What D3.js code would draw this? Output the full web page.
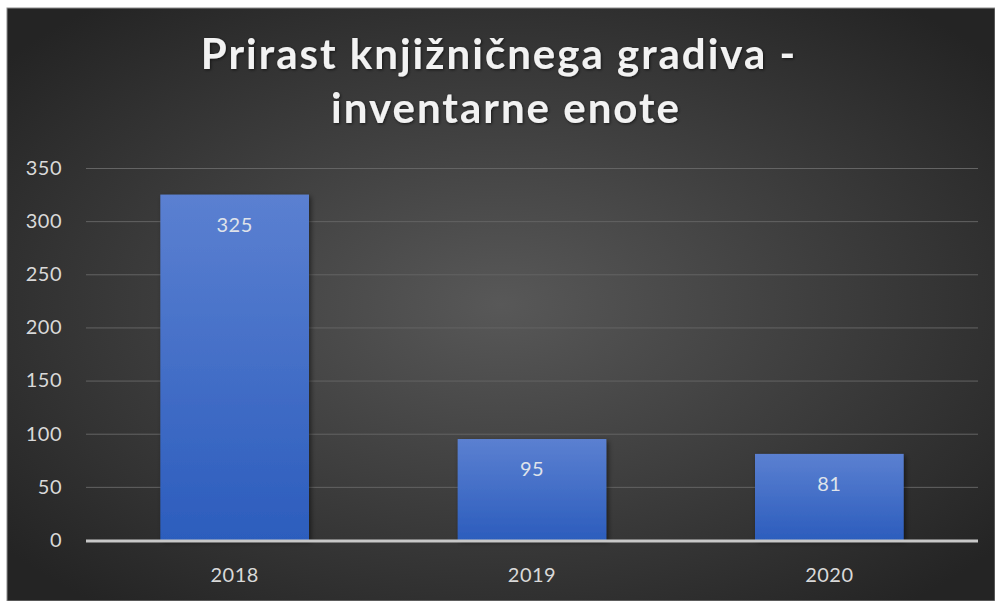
<!DOCTYPE html>
<html>
<head>
<meta charset="utf-8">
<script src="https://cdn.jsdelivr.net/npm/d3@7"></script>
<style>
  body { margin: 0; background: #fff; }
  svg { display: block; }
</style>
</head>
<body>
<svg id="svg1" width="995" height="601"></svg>
<script>
var years = ['2018', '2019', '2020'];
var values = [325, 95, 81];
var yTicks = [0, 50, 100, 150, 200, 250, 300, 350];
var titleLines = ['Prirast knjižničnega gradiva -', 'inventarne enote'];

var width = 995;
var height = 601;
var marginLeft = 86;
var marginRight = 17;
var plotTop = 168;
var plotBottom = 540;
var fontFam = 'Lato, "Open Sans", sans-serif';

var svg = d3.select('svg');
var defs = svg.append('defs');

// background gradient
var bg = defs.append('radialGradient')
    .attr('id', 'bg')
    .attr('cx', '50%').attr('cy', '50%').attr('r', '65%');
bg.append('stop').attr('offset', '0%').attr('stop-color', '#585858');
bg.append('stop').attr('offset', '100%').attr('stop-color', '#242424');

var barGrad = defs.append('linearGradient')
    .attr('id', 'barGrad')
    .attr('x1', 0).attr('y1', 0).attr('x2', 0).attr('y2', 1);
barGrad.append('stop').attr('offset', '0%').attr('stop-color', '#5b80d1');
barGrad.append('stop').attr('offset', '100%').attr('stop-color', '#2c5dbd');

var shadow = defs.append('filter').attr('id', 'shadow')
    .attr('x', '-10%').attr('y', '-10%').attr('width', '130%').attr('height', '130%');
shadow.append('feDropShadow')
    .attr('dx', 2).attr('dy', 2).attr('stdDeviation', 2.5)
    .attr('flood-color', '#000').attr('flood-opacity', 0.5);

var txtShadow = defs.append('filter').attr('id', 'txtShadow');
txtShadow.append('feDropShadow')
    .attr('dx', 1).attr('dy', 1).attr('stdDeviation', 1.5)
    .attr('flood-color', '#000').attr('flood-opacity', 0.6);

svg.append('rect')
    .attr('x', 7).attr('y', 8)
    .attr('width', width - 7).attr('height', height - 8)
    .attr('fill', 'url(#bg)')
    .attr('stroke', '#8c8c8c').attr('stroke-width', 1);

var x = d3.scaleBand()
    .domain(years)
    .range([marginLeft, width - marginRight])
    .paddingInner(0.5)
    .paddingOuter(0.25);

var y = d3.scaleLinear()
    .domain([0, 350])
    .range([plotBottom, plotTop]);

// gridlines
svg.append('g')
    .attr('class', 'grid')
    .selectAll('line')
    .data(yTicks.slice(1))
    .enter()
    .append('line')
    .attr('x1', marginLeft)
    .attr('x2', width - marginRight)
    .attr('y1', function(d) { return y(d) + 0.5; })
    .attr('y2', function(d) { return y(d) + 0.5; })
    .attr('stroke', '#646464')
    .attr('stroke-width', 1);

// y axis labels
var yAxis = d3.axisLeft(y).tickValues(yTicks).tickSize(0).tickPadding(0);
svg.append('g')
    .attr('transform', 'translate(62,0)')
    .call(yAxis)
    .call(function(g) { g.select('.domain').remove(); })
    .selectAll('text')
    .attr('fill', '#d9d9d9')
    .style('font-family', fontFam)
    .style('font-size', '20px')
    .style('letter-spacing', '0.5px');

// bars
svg.append('g')
    .selectAll('rect')
    .data(values)
    .enter()
    .append('rect')
    .attr('x', function(d, i) { return x(years[i]); })
    .attr('y', function(d) { return y(d); })
    .attr('width', x.bandwidth())
    .attr('height', function(d) { return y(0) - y(d); })
    .attr('fill', 'url(#barGrad)')
    .attr('filter', 'url(#shadow)');

// value labels
svg.append('g')
    .selectAll('text')
    .data(values)
    .enter()
    .append('text')
    .attr('x', function(d, i) { return x(years[i]) + x.bandwidth() / 2; })
    .attr('y', function(d) { return y(d) + 37; })
    .attr('text-anchor', 'middle')
    .attr('fill', '#dfe3ea')
    .style('font-family', fontFam)
    .style('font-size', '20px')
    .style('letter-spacing', '0.5px')
    .text(function(d) { return d; });

// x axis
var xAxis = d3.axisBottom(x).tickSize(0).tickPadding(28);
var gx = svg.append('g')
    .attr('transform', 'translate(0,' + plotBottom + ')')
    .call(xAxis);
gx.select('.domain').remove();
gx.selectAll('text')
    .attr('fill', '#d9d9d9')
    .style('font-family', fontFam)
    .style('font-size', '20px')
    .style('letter-spacing', '0.5px');

svg.append('line')
    .attr('x1', marginLeft).attr('x2', width - marginRight)
    .attr('y1', plotBottom + 1).attr('y2', plotBottom + 1)
    .attr('stroke', '#c8c8c8')
    .attr('stroke-width', 3);

// title
svg.append('g')
    .selectAll('text')
    .data(titleLines)
    .enter()
    .append('text')
    .attr('x', function(d, i) { return i === 0 ? 499 : 506; })
    .attr('y', function(d, i) { return 69 + i * 54; })
    .attr('text-anchor', 'middle')
    .attr('fill', '#f2f2f2')
    .attr('filter', 'url(#txtShadow)')
    .style('font-family', fontFam)
    .style('font-weight', 'bold')
    .style('font-size', '42px')
    .style('letter-spacing', '2px')
    .text(function(d) { return d; });
</script>
</body>
</html>
